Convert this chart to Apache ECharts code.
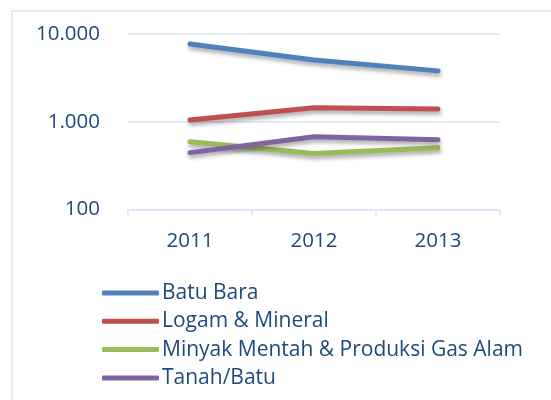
<!DOCTYPE html>
<html>
<head>
<meta charset="utf-8">
<script src="https://cdn.jsdelivr.net/npm/echarts@6/dist/echarts.min.js"></script>
<style>
  html, body { margin: 0; padding: 0; background: #fff; }
  #chart { width: 551px; height: 400px; }
</style>
</head>
<body>
<div id="chart"></div>
<script>
const years = ['2011', '2012', '2013'];
const seriesNames = ['Batu Bara', 'Logam & Mineral', 'Minyak Mentah & Produksi Gas Alam', 'Tanah/Batu'];
const batuBara = [7700, 5050, 3800];
const logamMineral = [1050, 1440, 1400];
const minyakGas = [590, 435, 505];
const tanahBatu = [445, 675, 625];
const colors = ['#4F81BD', '#C0504D', '#9BBB59', '#8064A2'];

const textColor = '#1F497D';
const font = '"Open Sans", sans-serif';

let chart = echarts.init(document.getElementById('chart'));

function fmt(v) {
  return String(v).replace(/\B(?=(\d{3})+(?!\d))/g, '.');
}

const dataArr = [batuBara, logamMineral, minyakGas, tanahBatu];

const option = {
  animation: false,
  color: colors,
  graphic: [{
    type: 'rect',
    shape: { x: 12, y: 11, width: 600, height: 500 },
    style: { fill: 'none', stroke: '#D9E3F2', lineWidth: 1.5 },
    silent: true
  }],
  grid: {
    left: 128,
    right: 51,
    top: 34,
    bottom: 190.5
  },
  legend: {
    orient: 'vertical',
    left: 102,
    top: 282,
    padding: 0,
    itemWidth: 57,
    itemHeight: 5,
    itemGap: 6.3,
    icon: 'roundRect',
    data: seriesNames,
    textStyle: { color: textColor, fontSize: 21, fontFamily: font, lineHeight: 22, padding: [0, 0, 0, -2] }
  },
  xAxis: {
    type: 'category',
    data: years,
    boundaryGap: true,
    axisLine: { lineStyle: { color: '#D9E3F2', width: 1.5 } },
    axisTick: { show: true, length: 6, lineStyle: { color: '#D9E3F2', width: 1.5 } },
    axisLabel: { color: textColor, fontSize: 20.5, fontFamily: font, margin: 21 }
  },
  yAxis: {
    type: 'log',
    logBase: 10,
    min: 100,
    max: 10000,
    axisLine: { show: false },
    axisTick: { show: false },
    splitLine: { lineStyle: { color: '#D9E3F2', width: 1.5 } },
    axisLabel: { color: textColor, fontSize: 20.5, fontFamily: font, margin: 28, formatter: fmt }
  },
  series: seriesNames.map((name, i) => ({
    name: name,
    type: 'line',
    data: dataArr[i],
    showSymbol: false,
    symbol: 'none',
    lineStyle: {
      width: 5,
      cap: 'round',
      join: 'round',
      shadowColor: 'rgba(0,0,0,0.35)',
      shadowBlur: 4,
      shadowOffsetX: 1,
      shadowOffsetY: 3
    }
  }))
};

chart.setOption(option);
window.addEventListener('resize', () => {
  chart.resize();
});
</script>
</body>
</html>
